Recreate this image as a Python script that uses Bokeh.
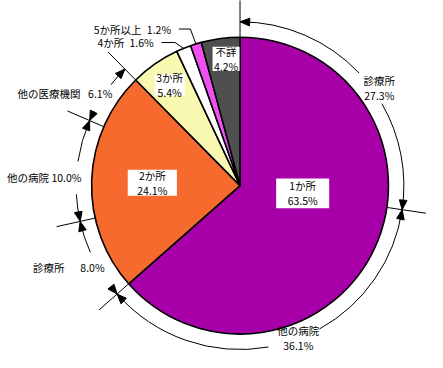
import math
import numpy as np
from bokeh.plotting import figure
from bokeh.models import Range1d, ColumnDataSource
from bokeh.core.properties import value
from bokeh.embed import file_html
from bokeh.resources import INLINE

# ---------------- data ----------------
categories = ["1か所", "2か所", "3か所", "4か所", "5か所以上", "不詳"]
shares = [63.5, 24.1, 5.4, 1.6, 1.2, 4.2]
slice_colors = ["#A800A8", "#F66A2E", "#F8F8B0", "#FFFFFF", "#F050F0", "#4F4F4F"]

one_site_labels = ["診療所", "他の病院"]
one_site_values = [27.3, 36.1]
two_site_labels = ["診療所", "他の病院", "他の医療機関"]
two_site_values = [8.0, 10.0, 6.1]

# ---------------- layout (reference pixel frame, y down) ----------------
W_REF, H_REF = 443, 368
FIG_W, FIG_H = 427, 352
S = FIG_W / W_REF
Y_SPAN = FIG_H / S
Y_PAD = (H_REF - Y_SPAN) / 2

CX_REF, CY_REF = 248.5, 193.5
R_PIE = 154
R_ARC = 170
R_TICK = 195
ARROW_L, ARROW_W = 10, 8
FONT = value("Noto Sans CJK JP")
FS = "10.5px"

def Y(yr):
    return H_REF - yr

CX, CY = CX_REF, Y(CY_REF)

def pt(theta_deg, r):
    a = math.radians(90 - theta_deg)
    return CX + r * math.cos(a), CY + r * math.sin(a)

p = figure(width=FIG_W, height=FIG_H,
           x_range=Range1d(0, W_REF), y_range=Range1d(Y_PAD, H_REF - Y_PAD),
           output_backend="svg", toolbar_location=None, min_border=0,
           x_axis_location=None, y_axis_location=None)
p.grid.visible = False
p.outline_line_color = None
p.background_fill_color = "white"
p.border_fill_color = "white"

# ---------------- pie ----------------
total = sum(shares)
bounds = np.concatenate([[0.0], np.cumsum(shares)]) / total * 360.0
src = ColumnDataSource(dict(
    cat=categories,
    start=[math.radians(90 - b) for b in bounds[1:]],
    end=[math.radians(90 - b) for b in bounds[:-1]],
    color=slice_colors,
))
p.wedge(x=CX, y=CY, radius=R_PIE, start_angle="start", end_angle="end",
        direction="anticlock", fill_color="color", line_color="black",
        line_width=1.6, source=src)

# ---------------- outer breakdown arcs ----------------
groups = [(0, one_site_labels, one_site_values), (1, two_site_labels, two_site_values)]
arc_gaps = [[(46.6, 60.0), (151.0, 170.0)],
            [(232.0, 246.0), (267.0, 278.5), (297.0, 308.0)]]

arc_start, arc_end = [], []
tri_xs, tri_ys = [], []
tick_angles = []
for gi, (si, labels, vals) in enumerate(groups):
    t0, t1 = bounds[si], bounds[si + 1]
    cum = np.concatenate([[0.0], np.cumsum(vals)]) / sum(vals) * (t1 - t0) + t0
    for k in range(len(vals)):
        a, b = cum[k], cum[k + 1]
        g0, g1 = arc_gaps[gi][k]
        for (u, v) in [(a, g0), (g1, b)]:
            arc_start.append(math.radians(90 - v))
            arc_end.append(math.radians(90 - u))
        dth = math.degrees(ARROW_L / R_ARC)
        for th, sgn in [(a, 1), (b, -1)]:
            tip = pt(th, R_ARC)
            b1 = pt(th + sgn * dth, R_ARC - ARROW_W / 2)
            b2 = pt(th + sgn * dth, R_ARC + ARROW_W / 2)
            tri_xs.append([tip[0], b1[0], b2[0]])
            tri_ys.append([tip[1], b1[1], b2[1]])
        for th in (a, b):
            if not any(abs(th - t) < 0.5 for t in tick_angles):
                tick_angles.append(th)

p.arc(x=CX, y=CY, radius=R_ARC, start_angle=arc_start, end_angle=arc_end,
      direction="anticlock", line_color="black", line_width=1)
p.patches(xs=tri_xs, ys=tri_ys, fill_color="black", line_color="black", line_width=1)

x0s, y0s, x1s, y1s = [], [], [], []
for th in tick_angles:
    a0 = pt(th, R_PIE)
    a1 = pt(th, R_TICK)
    x0s.append(a0[0]); y0s.append(a0[1]); x1s.append(a1[0]); y1s.append(a1[1])
p.segment(x0=x0s, y0=y0s, x1=x1s, y1=y1s, line_color="black", line_width=1)

# ---------------- inner labels ----------------
inner_pos = {  # center x, center y, box w, box h (reference px)
    "1か所": (313.5, 201.5, 55, 31),
    "2か所": (157.5, 190.5, 51, 27),
    "3か所": (175.5, 89.0, 31, 22),
    "不詳": (234.0, 62.0, 28, 25),
}
bx, by, bw, bh, tx, ty, tt = [], [], [], [], [], [], []
for cat, sh in zip(categories, shares):
    if cat in inner_pos:
        x, y, w, h = inner_pos[cat]
        bx.append(x); by.append(Y(y)); bw.append(w); bh.append(h)
        tx.append(x); ty.append(Y(y)); tt.append(f"{cat}\n{sh:.1f}%")
p.rect(x=bx, y=by, width=bw, height=bh, fill_color="white", line_color=None)
p.text(x=tx, y=ty, text=tt, text_font=FONT, text_font_size=FS,
       text_align="center", text_baseline="middle", text_line_height=1.0,
       text_color="black")

# ---------------- small slices: outside labels with leaders ----------------
outer_small = {  # right edge x, y, elbow x
    "4か所": (159, 45, 181),
    "5か所以上": (177, 31, 197),
}
ox, oy, ot = [], [], []
lead_xs, lead_ys = [], []
for i, (cat, sh) in enumerate(zip(categories, shares)):
    if cat in outer_small:
        xr, yr, ex = outer_small[cat]
        ox.append(xr); oy.append(Y(yr)); ot.append(f"{cat}\u2002{sh:.1f}%")
        mid = (bounds[i] + bounds[i + 1]) / 2
        m = pt(mid, R_PIE)
        lead_xs.append([xr + 8, ex, m[0]])
        lead_ys.append([Y(yr), Y(yr), m[1]])
p.multi_line(xs=lead_xs, ys=lead_ys, line_color="black", line_width=1)
p.text(x=ox, y=oy, text=ot, text_font=FONT, text_font_size=FS,
       text_align="right", text_baseline="middle", text_color="black")

# ---------------- breakdown labels ----------------
sub_pos = [  # (x, y, align, separator)
    (393, 92, "center", "\n"),
    (309, 352, "center", "\n"),
    (108, 278, "right", "\u3000\u2002"),
    (84, 185, "right", " "),
    (116, 98, "right", "\u2002 "),
]
k = 0
for si, labels, vals in groups:
    for lab, v in zip(labels, vals):
        x, y, al, sep = sub_pos[k]
        p.text(x=[x], y=[Y(y)], text=[f"{lab}{sep}{v:.1f}%"], text_font=FONT,
               text_font_size=FS, text_align=al, text_baseline="middle",
               text_line_height=1.0, text_color="black")
        k += 1

open("out.html", "w").write(file_html(p, INLINE))
